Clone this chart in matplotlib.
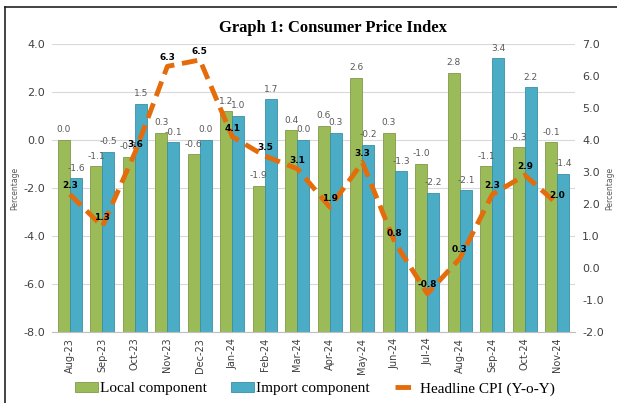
import matplotlib.pyplot as plt
import numpy as np

months = ["Aug-23", "Sep-23", "Oct-23", "Nov-23", "Dec-23", "Jan-24", "Feb-24", "Mar-24",
          "Apr-24", "May-24", "Jun-24", "Jul-24", "Aug-24", "Sep-24", "Oct-24", "Nov-24"]
local = [0.0, -1.1, -0.7, 0.3, -0.6, 1.2, -1.9, 0.4, 0.6, 2.6, 0.3, -1.0, 2.8, -1.1, -0.3, -0.1]
imports = [-1.6, -0.5, 1.5, -0.1, 0.0, 1.0, 1.7, 0.0, 0.3, -0.2, -1.3, -2.2, -2.1, 3.4, 2.2, -1.4]
headline = [2.3, 1.3, 3.6, 6.3, 6.5, 4.1, 3.5, 3.1, 1.9, 3.3, 0.8, -0.8, 0.3, 2.3, 2.9, 2.0]

GREEN = "#9BBB59"
BLUE = "#4BACC6"
ORANGE = "#E46C0A"
GRAY = "#595959"
base = -8.0

fig = plt.figure(figsize=(6.17, 4.03), dpi=100)
ax = fig.add_axes([0.0843, 0.176, 0.848, 0.715])
ax2 = ax.twinx()

x = np.arange(len(months))
w = 0.37
lv = np.array(local)
iv = np.array(imports)
ax.bar(x - w / 2, lv - base, w, bottom=base, color=GREEN, edgecolor="#7F9A48",
       linewidth=0.6, label="Local component", zorder=2)
ax.bar(x + w / 2, iv - base, w, bottom=base, color=BLUE, edgecolor="#3A8FA6",
       linewidth=0.6, label="Import component", zorder=2)

for i in range(len(months)):
    ax.annotate("%.1f" % local[i], (x[i] - w / 2, local[i]), xytext=(0, 4),
                textcoords="offset points", ha="center", va="bottom",
                fontsize=6.5, color=GRAY, zorder=5)
    ax.annotate("%.1f" % imports[i], (x[i] + w / 2, imports[i]), xytext=(0, 4),
                textcoords="offset points", ha="center", va="bottom",
                fontsize=6.5, color=GRAY, zorder=5)

ax.set_ylim(-8, 4)
ax.set_yticks(np.arange(-8, 4.1, 2))
ax.set_yticklabels(["%.1f" % v for v in np.arange(-8, 4.1, 2)])
ax.set_xlim(-0.55, len(months) - 0.45)
ax.set_xticks(x)
ax.set_xticklabels(months, rotation=90, fontsize=7, color="#404040")
ax.tick_params(axis="y", labelsize=8, colors="#404040", length=0, pad=5)
ax.tick_params(axis="x", length=0, pad=4)
ax.grid(axis="y", color="#D9D9D9", linewidth=0.8, zorder=0)
ax.set_axisbelow(True)
for s in ["top", "left", "right"]:
    ax.spines[s].set_visible(False)
ax.spines["bottom"].set_color("#BFBFBF")
ax.set_ylabel("Percentage", fontsize=5.5, color=GRAY)
ax.yaxis.set_label_coords(-0.063, 0.5)

ax2.plot(x, headline, color=ORANGE, linewidth=3.5, linestyle=(0, (3.2, 1.6)),
         label="Headline CPI (Y-o-Y)", zorder=4)
for i in range(len(months)):
    ax2.annotate("%.1f" % headline[i], (x[i], headline[i]), xytext=(0, 3),
                 textcoords="offset points", ha="center", va="bottom",
                 fontsize=6.5, fontweight="bold", color="black", zorder=6)
ax2.set_ylim(-2, 7)
ax2.set_yticks(np.arange(-2, 7.1, 1))
ax2.set_yticklabels(["%.1f" % v for v in np.arange(-2, 7.1, 1)])
ax2.tick_params(axis="y", labelsize=8, colors="#404040", length=0, pad=5)
for s in ax2.spines.values():
    s.set_visible(False)
ax2.set_ylabel("Percentage", fontsize=5.5, color=GRAY)
ax2.yaxis.set_label_coords(1.058, 0.5)

fig.text(0.54, 0.93, "Graph 1: Consumer Price Index", ha="center", va="center",
         fontsize=12, fontweight="bold", family="Liberation Serif")

h1, l1 = ax.get_legend_handles_labels()
h2, l2 = ax2.get_legend_handles_labels()
fig.legend(h1 + h2, l1 + l2, loc="center", bbox_to_anchor=(0.51, 0.035), ncol=3,
           frameon=False, prop={"family": "Liberation Serif", "size": 11},
           handlelength=1.5, handleheight=0.6, columnspacing=1.6, handletextpad=0.15)

# frame of the original picture (only left and top edges show)
fig.add_artist(plt.Line2D([0.008, 0.008], [0.0, 0.983], color="#222222", linewidth=1.2))
fig.add_artist(plt.Line2D([0.008, 1.0], [0.983, 0.983], color="#222222", linewidth=1.2))

fig.savefig("out.png", dpi=100)
